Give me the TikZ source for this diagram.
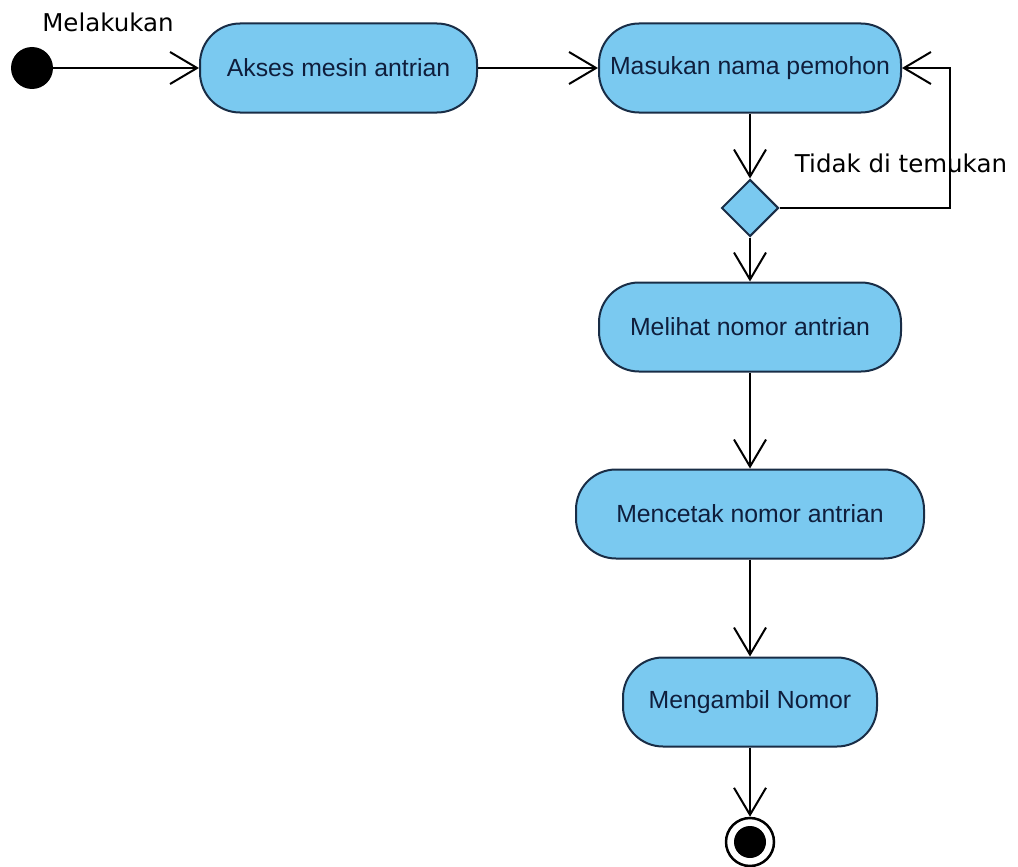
\documentclass[tikz,border=0pt]{standalone}
\usepackage{fontspec}
\setmainfont{Liberation Sans}
\newfontfamily\labelfont{DejaVu Sans}
\usetikzlibrary{arrows.meta,shapes.geometric}
\definecolor{actfill}{RGB}{122,201,240}
\definecolor{actline}{RGB}{25,45,70}
\definecolor{acttext}{RGB}{15,30,60}
\begin{document}
\begin{tikzpicture}[x=1pt,y=-1pt,
  action/.style={draw=actline, fill=actfill, line width=2pt, rounded corners=40pt,
    minimum height=89pt, text=acttext, font=\fontsize{24.8}{29}\selectfont, inner sep=0pt},
  flow/.style={line width=2pt, -{Straight Barb[length=27pt,width=32pt,line width=2pt]}},
  guard/.style={font=\labelfont\fontsize{24.5}{29}\selectfont, text=black, inner sep=0pt}]
\useasboundingbox (0,0) rectangle (1018,867);

% start and end states
\node[circle, fill=black, minimum size=42pt, inner sep=0pt] (start) at (32,68) {};
\node[circle, draw=black, line width=2.5pt, fill=white, minimum size=48pt, inner sep=0pt] (stop) at (750,842) {};
\node[circle, fill=black, minimum size=32pt, inner sep=0pt] (stopdot) at (750,842) {};

% activities
\node[action, minimum width=277pt] (akses) at (338.5,68) {Akses mesin antrian};
\node[action, minimum width=302pt] (masuk) at (750,68) {Masukan nama pemohon};
\node[diamond, draw=actline, fill=actfill, line width=2pt, minimum width=57pt, minimum height=57pt, inner sep=0pt] (cek) at (750,208) {};
\node[action, minimum width=302pt] (lihat) at (750,327) {Melihat nomor antrian};
\node[action, minimum width=348pt] (cetak) at (750,514) {Mencetak nomor antrian};
\node[action, minimum width=254pt] (ambil) at (750,702) {Mengambil Nomor};

% flows
\draw[flow] (start) -- (akses);
\draw[flow] (akses) -- (masuk);
\draw[flow] (masuk) -- (cek);
\coordinate (loopa) at (950,208);
\coordinate (loopb) at (950,68);
\draw[flow] (cek.east) -- (loopa) -- (loopb) -- (masuk.east);
\draw[flow] (cek) -- (lihat);
\draw[flow] (lihat) -- (cetak);
\draw[flow] (cetak) -- (ambil);
\draw[flow] (ambil) -- (stop);

% labels
\node[guard] (lblstart) at (108,22) {Melakukan};
\node[guard] (lblloop) at (901,163) {Tidak di temukan};
\end{tikzpicture}
\end{document}
